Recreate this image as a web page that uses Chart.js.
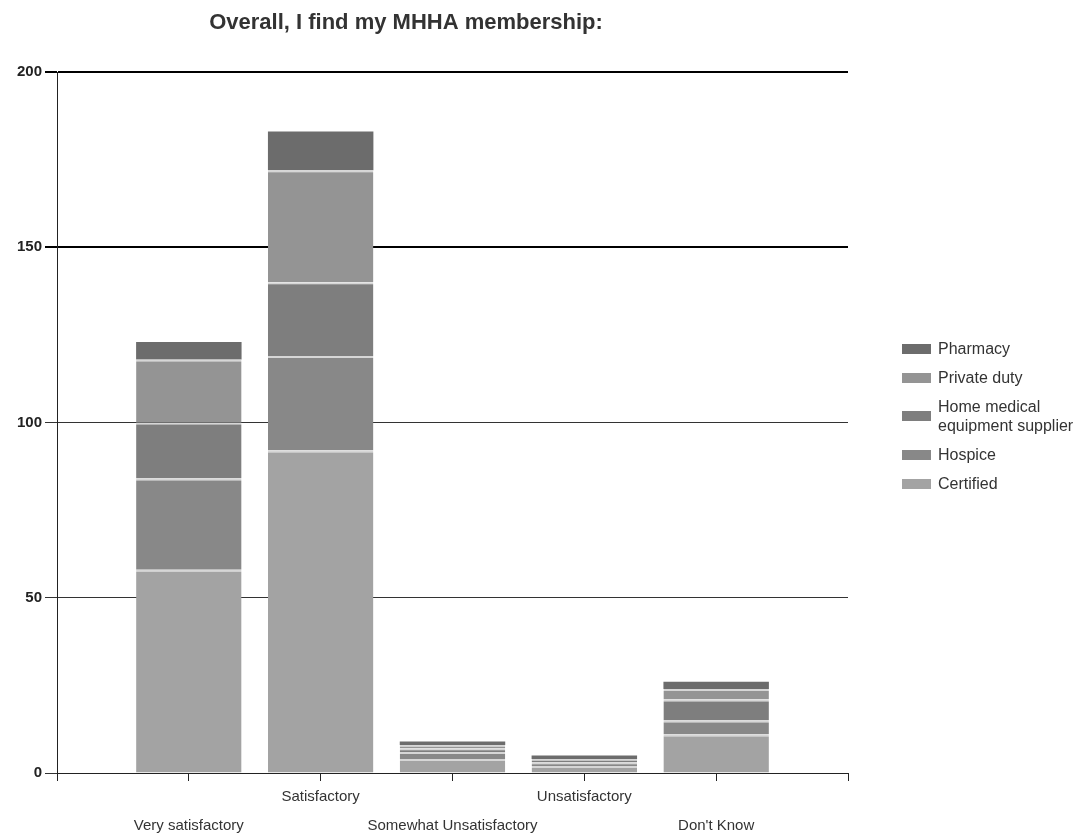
<!DOCTYPE html>
<html>
<head>
<meta charset="utf-8">
<script src="https://cdn.jsdelivr.net/npm/chart.js@4/dist/chart.umd.min.js"></script>
<style>
  html, body { margin: 0; padding: 0; background: #fff; }
  #wrap { position: relative; width: 1085px; height: 834px; }
  #legend { position: absolute; left: 902px; top: 339px; font: 16px "Liberation Sans", Arial, sans-serif; color: #333; }
  #legend .item { display: flex; align-items: center; margin-bottom: 10px; line-height: 19px; }
  #legend .box { width: 29px; height: 10px; margin-right: 7px; flex: none; }
</style>
</head>
<body>
<div id="wrap">
  <canvas id="chart" width="1085" height="834"></canvas>
  <div id="legend"></div>
</div>
<script>
// categories along the x axis
const categories = ['Very satisfactory', 'Satisfactory', 'Somewhat Unsatisfactory', 'Unsatisfactory', "Don't Know"];

// stacked series, bottom to top
const certified = [58, 92, 4, 2, 11];
const hospice = [26, 27, 2, 1, 4];
const homeMedical = [16, 21, 1, 1, 6];
const privateDuty = [18, 32, 1, 0, 3];
const pharmacy = [5, 11, 1, 1, 2];

const yTicks = [0, 50, 100, 150, 200];

// empty slot at each end so the bars sit inside the axis like the original
const pad = arr => [null, ...arr, null];
const labels = ['', ...categories, ''];

const series = [
  { label: 'Certified', data: certified, color: '#a3a3a3' },
  { label: 'Hospice', data: hospice, color: '#888888' },
  { label: 'Home medical\nequipment supplier', data: homeMedical, color: '#7e7e7e' },
  { label: 'Private duty', data: privateDuty, color: '#949494' },
  { label: 'Pharmacy', data: pharmacy, color: '#6c6c6c' }
];

const titlePlugin = {
  id: 'titleText',
  afterDraw(chart) {
    const ctx = chart.ctx;
    ctx.save();
    ctx.font = 'bold 22px "Liberation Sans", Arial, sans-serif';
    ctx.fillStyle = '#333';
    ctx.textAlign = 'center';
    ctx.textBaseline = 'middle';
    ctx.fillText('Overall, I find my MHHA membership:', 406, 23);
    ctx.restore();
  }
};

const chart = new Chart(document.getElementById('chart'), {
  type: 'bar',
  data: {
    labels: labels,
    datasets: series.map((s, i) => ({
      label: s.label,
      data: pad(s.data),
      backgroundColor: s.color,
      borderColor: '#d6d6d6',
      borderWidth: { top: i === series.length - 1 ? 0 : 2, right: 0, bottom: 0, left: 0 },
      categoryPercentage: 1,
      barPercentage: 0.8
    }))
  },
  options: {
    responsive: false,
    animation: false,
    layout: { padding: { top: 72, right: 237, bottom: 0, left: 0 } },
    plugins: {
      legend: { display: false },
      title: { display: false },
      tooltip: { enabled: false }
    },
    scales: {
      x: {
        stacked: true,
        offset: false,
        grid: { offset: false, drawOnChartArea: false, drawTicks: true, tickLength: 8, color: '#222' },
        border: { display: true, color: '#222', width: 1 },
        ticks: {
          autoSkip: false,
          maxRotation: 0,
          padding: 1,
          color: '#333',
          font: { family: '"Liberation Sans", Arial, sans-serif', size: 15, lineHeight: '29px' },
          callback: function(value, index) {
            const l = labels[index];
            if (!l) return '';
            return index % 2 === 1 ? ['', l] : [l];
          }
        },
        afterFit: scale => { scale.height = 61; }
      },
      y: {
        stacked: true,
        min: 0,
        max: 200,
        afterBuildTicks: scale => { scale.ticks = yTicks.map(v => ({ value: v })); },
        grid: {
          tickLength: 12,
          color: ctx => (ctx.tick && ctx.tick.value >= 150 ? '#000' : '#333'),
          lineWidth: ctx => (ctx.tick && ctx.tick.value >= 150 ? 2 : 1)
        },
        border: { display: true, color: '#222', width: 1 },
        ticks: {
          padding: 3,
          color: '#222',
          font: { family: '"Liberation Sans", Arial, sans-serif', size: 15, weight: 'bold' }
        },
        afterFit: scale => { scale.width = 57; }
      }
    }
  },
  plugins: [titlePlugin]
});

// legend, top item = top of the stack
const legend = document.getElementById('legend');
series.slice().reverse().forEach(s => {
  const item = document.createElement('div');
  item.className = 'item';
  const box = document.createElement('span');
  box.className = 'box';
  box.style.background = s.color;
  const text = document.createElement('span');
  text.innerHTML = s.label.replace('\n', '<br>');
  item.appendChild(box);
  item.appendChild(text);
  legend.appendChild(item);
});
</script>
</body>
</html>
